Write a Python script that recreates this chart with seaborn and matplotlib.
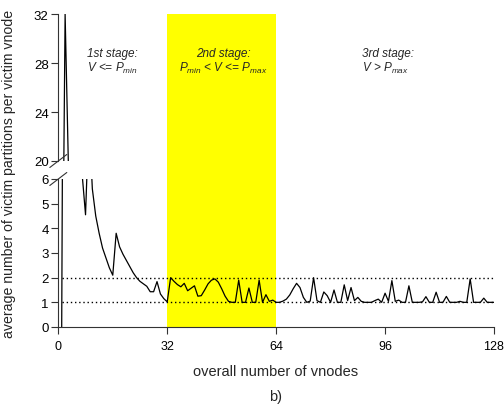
import numpy as np
import pandas as pd
import matplotlib
matplotlib.use('Agg')
import matplotlib.pyplot as plt
import seaborn as sns

# ---- data -------------------------------------------------------------
vnodes = np.arange(1, 129)
victim_partitions = [
    0.0, 32.0, 19.2, 14.0, 10.5, 8.0, 6.2, 4.55, 8.5, 5.6,          # 1-10
    4.5, 3.8, 3.2, 2.8, 2.4, 2.1, 3.8, 3.25, 2.95, 2.7,             # 11-20
    2.45, 2.2, 2.0, 1.85, 1.75, 1.65, 1.43, 1.43, 1.84, 1.34,       # 21-30
    1.15, 1.02, 2.0, 1.85, 1.72, 1.63, 1.77, 1.47, 1.57, 1.67,      # 31-40
    1.25, 1.27, 1.5, 1.75, 1.9, 1.95, 1.82, 1.55, 1.25, 1.04,       # 41-50
    1.0, 1.0, 1.9, 1.0, 1.0, 1.58, 1.0, 1.0, 1.9, 1.0,              # 51-60
    1.31, 1.04, 1.09, 1.0, 1.0, 1.05, 1.13, 1.3, 1.55, 1.77,        # 61-70
    1.6, 1.2, 1.0, 1.05, 2.0, 1.07, 1.0, 1.42, 1.27, 1.0,           # 71-80
    1.5, 1.0, 1.0, 1.71, 1.07, 1.6, 1.07, 1.2, 1.04, 1.0,           # 81-90
    1.0, 1.0, 1.07, 1.13, 1.0, 1.37, 1.04, 1.88, 1.04, 1.09,        # 91-100
    1.0, 1.0, 1.67, 1.0, 1.0, 1.0, 1.02, 1.23, 1.0, 1.0,            # 101-110
    1.41, 1.0, 1.0, 1.24, 1.0, 1.0, 1.0, 1.04, 1.0, 1.0,            # 111-120
    1.95, 1.0, 1.0, 1.0, 1.17, 1.0, 1.0, 1.0,                       # 121-128
]
stage_bounds = [32, 64]
x_ticks = [0, 32, 64, 96, 128]
top_yticks = [20, 24, 28, 32]
bottom_yticks = [0, 1, 2, 3, 4, 5, 6]
ref_levels = [1, 2]

df = pd.DataFrame({'vnodes': vnodes, 'value': victim_partitions})

# ---- style ------------------------------------------------------------
sns.set_style('ticks')
plt.rcParams['font.family'] = ['Liberation Sans', 'DejaVu Sans']
plt.rcParams['mathtext.fontset'] = 'custom'
plt.rcParams['mathtext.it'] = 'Liberation Sans:italic'
plt.rcParams['mathtext.rm'] = 'Liberation Sans'

fig = plt.figure(figsize=(5.04, 4.10), dpi=100)
W_PX, H_PX = 504, 410
L = 58.3 / W_PX
W = (494 - 58.3) / W_PX
bot_b = 1 - 328 / H_PX
bot_h = 148 / H_PX
top_b = 1 - 162 / H_PX
top_h = 147 / H_PX
top_t = 1 - 15 / H_PX

# background (yellow stage span through both panels)
ax_bg = fig.add_axes([L, bot_b, W, top_t - bot_b])
ax_bg.set_xlim(0, 128)
ax_bg.axvspan(stage_bounds[0], stage_bounds[1], color='#ffff00', lw=0)
ax_bg.axis('off')

ax_bot = fig.add_axes([L, bot_b, W, bot_h], facecolor='none')
ax_top = fig.add_axes([L, top_b, W, top_h], facecolor='none')

for ax in (ax_bot, ax_top):
    sns.lineplot(data=df, x='vnodes', y='value', ax=ax, color='black',
                 lw=0.9, legend=False)
    ax.set_xlim(0, 128)
    ax.set_xlabel('')
    ax.set_ylabel('')
    ax.spines['top'].set_visible(False)
    ax.spines['right'].set_visible(False)
    ax.spines['left'].set_color('#333333')
    ax.spines['bottom'].set_color('#333333')
    ax.tick_params(axis='both', direction='out', length=5, width=0.8,
                   colors='#333333', labelcolor='black', pad=2)

ax_bot.set_ylim(0, 6)
ax_bot.set_yticks(bottom_yticks)
ax_bot.set_xticks(x_ticks)
ax_bot.tick_params(axis='y', labelsize=9.5)
ax_bot.tick_params(axis='x', labelsize=9, pad=4)
for lvl in ref_levels:
    ax_bot.hlines(lvl, 1, 128, colors='black', linestyles=(0, (1, 2)), lw=1.0)

ax_top.set_ylim(20, 32)
ax_top.set_yticks(top_yticks)
ax_top.tick_params(axis='y', labelsize=9.5)
ax_top.spines['bottom'].set_visible(False)
ax_top.set_xticks([])

# break marks
dx = 8.5 / 436
dy_t = 6.5 / 147
dy_b = 6.5 / 148
ax_top.plot([-dx, dx], [-dy_t, dy_t], transform=ax_top.transAxes,
            color='#333333', lw=0.8, clip_on=False)
ax_bot.plot([-dx, dx], [1 - dy_b, 1 + dy_b], transform=ax_bot.transAxes,
            color='#333333', lw=0.8, clip_on=False)

# stage annotations
fs = 8.5
y1, y2 = 28.8, 27.6
ax_top.text(8.5, y1, '1st stage:', style='italic', fontsize=fs, va='center', ha='left')
ax_top.text(8.5, y2, '$V$ <= $P_{min}$', style='italic', fontsize=fs, va='center', ha='left')
ax_top.text(48.4, y1, '2nd stage:', style='italic', fontsize=fs, va='center', ha='center')
ax_top.text(48.4, y2, '$P_{min}$ < $V$ <= $P_{max}$', style='italic', fontsize=fs,
            va='center', ha='center')
ax_top.text(89.2, y1, '3rd stage:', style='italic', fontsize=fs, va='center', ha='left')
ax_top.text(89.2, y2, '$V$ > $P_{max}$', style='italic', fontsize=fs, va='center', ha='left')

# axis labels
fig.text(276 / W_PX, 1 - 372 / H_PX, 'overall number of vnodes', fontsize=10.5,
         ha='center', va='center')
fig.text(276 / W_PX, 1 - 397 / H_PX, 'b)', fontsize=10.5, ha='center', va='center')
fig.text(9 / W_PX, 1 - 338 / H_PX, 'average number of victim partitions per victim vnode',
         fontsize=10.2, rotation=90, ha='center', va='bottom')

fig.savefig('out.png', dpi=100)
